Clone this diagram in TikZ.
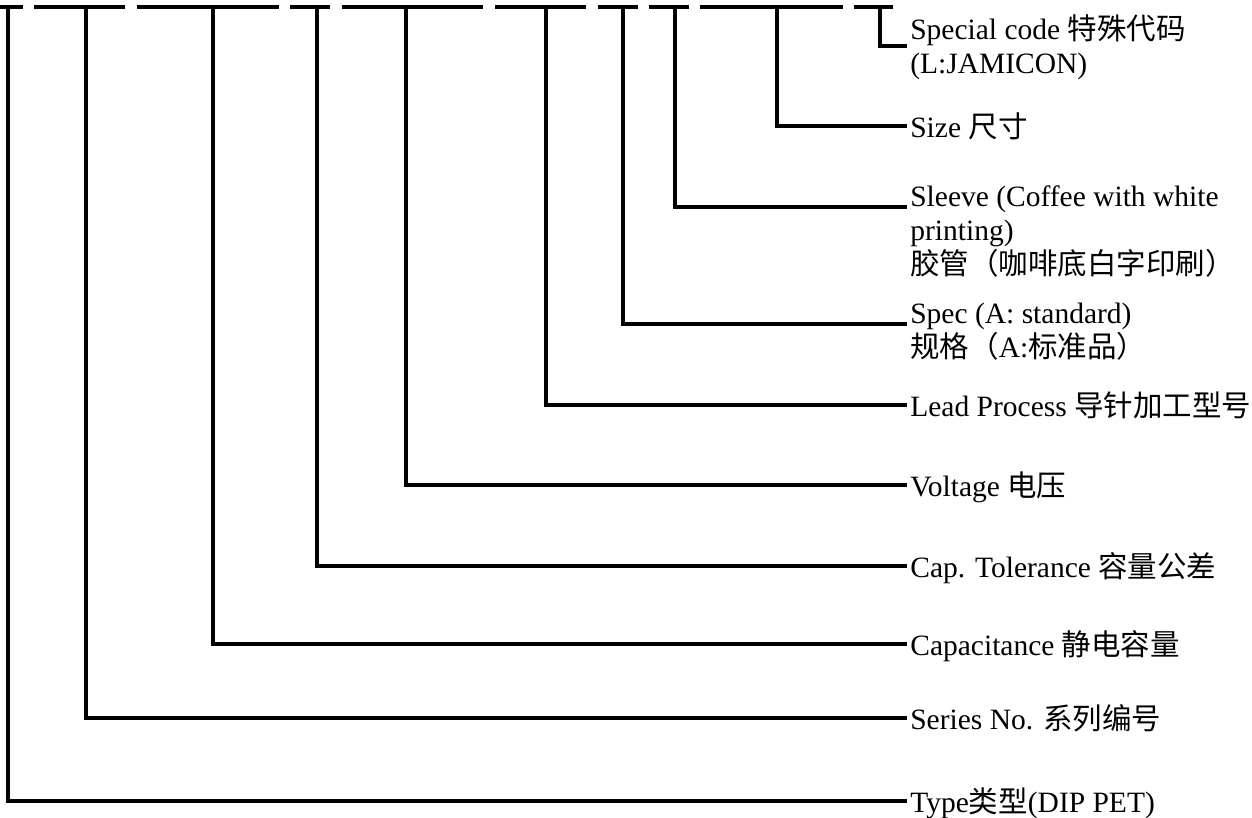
\documentclass[tikz,border=0pt]{standalone}
\usepackage{fontspec}
\setmainfont{Liberation Serif}
\newfontfamily\cjk{Noto Sans CJK SC}
\begin{document}
\begin{tikzpicture}[x=0.6pt,y=-0.6pt,
  conn/.style={line width=2pt},
  lbl/.style={anchor=base west,inner sep=0pt,font=\fontsize{17.7pt}{20.4pt}\selectfont}]
\useasboundingbox (0,0) rectangle (1252,818);
% top dashed line
\foreach \a/\b in {0/23,34/125,137/279,290/330,342/483,495/586,598/638,649/689,700/843,854/893}
  \draw[conn] (\a,7) -- (\b,7);
% top points of the branches
\coordinate (tType) at (8,7);
\coordinate (tSer) at (86,7);
\coordinate (tCap) at (213,7);
\coordinate (tTol) at (317,7);
\coordinate (tVol) at (406,7);
\coordinate (tLead) at (546,7);
\coordinate (tSpec) at (623,7);
\coordinate (tSlv) at (675,7);
\coordinate (tSize) at (777,7);
\coordinate (tSpc) at (880,7);
% end points
\coordinate (eType) at (907,801);
\coordinate (eSer) at (907,718);
\coordinate (eCap) at (907,644);
\coordinate (eTol) at (907,566);
\coordinate (eVol) at (907,485);
\coordinate (eLead) at (907,405);
\coordinate (eSpec) at (907,324);
\coordinate (eSlv) at (907,207);
\coordinate (eSize) at (907,126);
\coordinate (eSpc) at (907,46);
% labels
\node[lbl] (lSpc1) at (910,40) {Special code {\cjk 特殊代码}};
\node[lbl] (lSpc2) at (910,74) {(L:JAMICON)};
\node[lbl] (lSize) at (910,137) {Size {\cjk 尺寸}};
\node[lbl] (lSlv1) at (910,206) {Sleeve (Coffee with white};
\node[lbl] (lSlv2) at (910,240) {printing)};
\node[lbl] (lSlv3) at (910,274) {\cjk 胶管（咖啡底白字印刷）};
\node[lbl] (lSpec1) at (910,323) {Spec (A: standard)};
\node[lbl] (lSpec2) at (910,357) {{\cjk 规格（}A:{\cjk 标准品）}};
\node[lbl] (lLead) at (910,416) {Lead Process {\cjk 导针加工型号}};
\node[lbl] (lVol) at (910,496) {Voltage {\cjk 电压}};
\node[lbl] (lTol) at (910,577) {Cap. Tolerance {\cjk 容量公差}};
\node[lbl] (lCap) at (910,655) {Capacitance {\cjk 静电容量}};
\node[lbl] (lSer) at (910,729) {Series No. {\cjk 系列编号}};
\node[lbl] (lType) at (910,812) {Type{\cjk 类型}(DIP PET)};
% branches
\draw[conn] (tType) |- (eType);
\draw[conn] (tSer) |- (eSer);
\draw[conn] (tCap) |- (eCap);
\draw[conn] (tTol) |- (eTol);
\draw[conn] (tVol) |- (eVol);
\draw[conn] (tLead) |- (eLead);
\draw[conn] (tSpec) |- (eSpec);
\draw[conn] (tSlv) |- (eSlv);
\draw[conn] (tSize) |- (eSize);
\draw[conn] (tSpc) |- (eSpc);
\end{tikzpicture}
\end{document}
